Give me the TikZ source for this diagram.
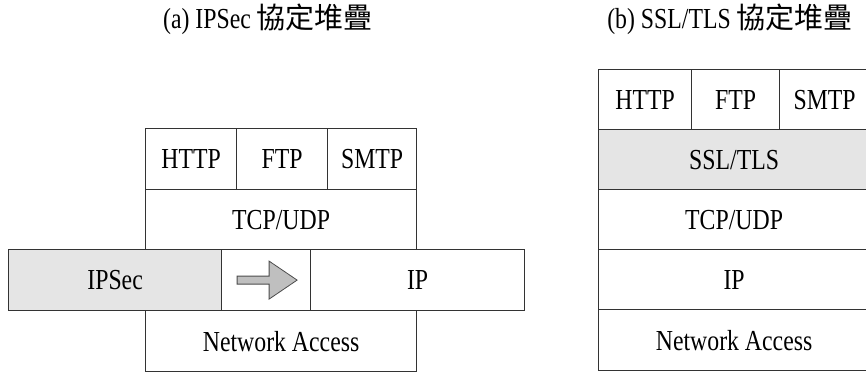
\documentclass[tikz,border=0pt]{standalone}
\usepackage{fontspec}
\setmainfont{Liberation Serif}[FakeStretch=0.82]
\newfontfamily\cjk{Noto Sans CJK TC}

\begin{document}
\begin{tikzpicture}[x=1pt,y=-1pt,
  cell/.style={draw=black!80, line width=1.2pt, fill=white, anchor=north west,
               inner sep=0pt, font=\fontsize{29}{32}\selectfont},
  shaded/.style={fill=black!10},
  title/.style={font=\fontsize{29}{32}\selectfont, inner sep=0pt},
  blockarrow/.style={fill=black!25, draw=black!70, line width=0.8pt}]

\useasboundingbox (0,0) rectangle (866,374);

% titles
\node[title] (ta) at (268,19) {(a) IPSec {\cjk 協定堆疊}};
\node[title] (tb) at (730,19) {(b) SSL/TLS {\cjk 協定堆疊}};

% (a) IPSec stack
\node[cell, minimum width=91, minimum height=61] (ahttp) at (145,128) {HTTP};
\node[cell, minimum width=91, minimum height=61] (aftp)  at (236,128) {FTP};
\node[cell, minimum width=89, minimum height=61] (asmtp) at (327,128) {SMTP};
\node[cell, minimum width=271, minimum height=60] (atcp) at (145,189) {TCP/UDP};
\node[cell, shaded, minimum width=213, minimum height=61] (aipsec) at (8,249) {IPSec};
\node[cell, minimum width=89, minimum height=61] (amid) at (221,249) {};
\node[cell, minimum width=214, minimum height=61] (aip) at (310,249) {IP};
\node[cell, minimum width=271, minimum height=61] (anet) at (145,310) {Network Access};

% direction arrow inside the middle cell
\begin{scope}[shift={(amid.center)}]
  \filldraw[blockarrow] (-29,-4) -- (3,-4) -- (3,-19) -- (31,0) -- (3,19) -- (3,4) -- (-29,4) -- cycle;
\end{scope}

% (b) SSL/TLS stack
\node[cell, minimum width=93, minimum height=60] (bhttp) at (598,69) {HTTP};
\node[cell, minimum width=88, minimum height=60] (bftp)  at (691,69) {FTP};
\node[cell, minimum width=90, minimum height=60] (bsmtp) at (779,69) {SMTP};
\node[cell, shaded, minimum width=271, minimum height=60] (bssl) at (598,129) {SSL/TLS};
\node[cell, minimum width=271, minimum height=60] (btcp) at (598,189) {TCP/UDP};
\node[cell, minimum width=271, minimum height=60] (bip)  at (598,249) {IP};
\node[cell, minimum width=271, minimum height=61] (bnet) at (598,309) {Network Access};
\end{tikzpicture}
\end{document}
